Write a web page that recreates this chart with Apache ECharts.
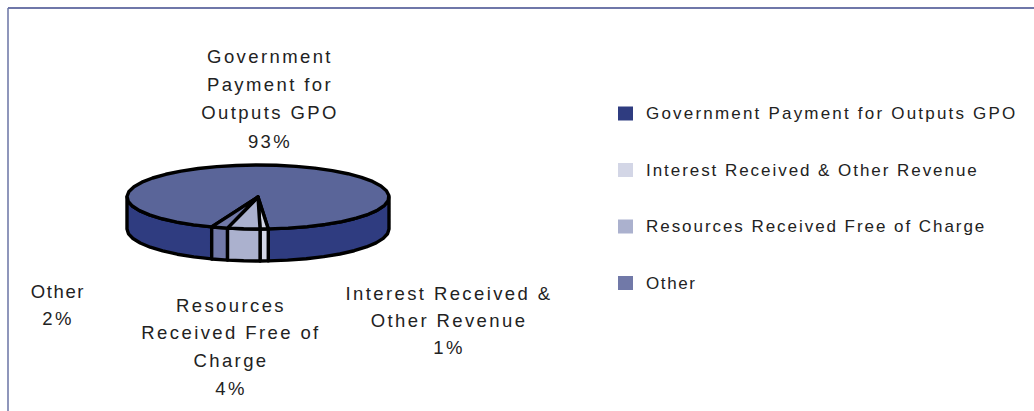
<!DOCTYPE html>
<html><head><meta charset="utf-8">
<style>html,body{margin:0;padding:0;background:#fff}#c{width:1034px;height:411px}</style>
<script src="https://cdn.jsdelivr.net/npm/echarts@6/dist/echarts.min.js"></script></head>
<body><div id="c"></div>
<script>
const categories = ['Government Payment for Outputs GPO','Interest Received & Other Revenue','Resources Received Free of Charge','Other'];
const values = [93, 1, 4, 2];
const labelLines = ['Government\nPayment for\nOutputs GPO','Interest Received &\nOther Revenue','Resources\nReceived Free of\nCharge','Other'];
const legendColors = ['#2f3c80','#d3d6e6','#abb1ce','#7179a8'];
const topColors = ['#5a6599','#d3d6e6','#abb1ce','#7179a8'];
const wallColors = ['#2f3c80','#d3d6e6','#abb1ce','#7179a8'];

const CX=258, CY=197, RX=131, RY=32, DEPTH=32, START=200.7, STEP=9;
const total = values.reduce((a,b)=>a+b,0);
const pt=(a,dy=0)=>{const r=a*Math.PI/180;return [CX+RX*Math.sin(r),CY-RY*Math.cos(r)+dy];};
function arc(a0,a1,dy){const n=Math.max(1,Math.ceil((a1-a0)/STEP));const p=[];for(let i=0;i<=n;i++)p.push(pt(a0+(a1-a0)*i/n,dy));return p;}
function spans(i){let s=START;for(let k=0;k<i;k++)s+=values[k]/total*360;return [s,s+values[i]/total*360];}
const line={stroke:'#000',lineWidth:3.4,lineJoin:'round'};
const series = categories.map((name,i)=>({
  name,type:'custom',coordinateSystem:'none',silent:true,z:i===0?2:3,
  itemStyle:{color:legendColors[i]},data:[values[i]],
  renderItem(){
    const [a0,a1]=spans(i);const children=[];
    for(const sh of [-360,0,360]){
      const lo=Math.max(a0+sh,90),hi=Math.min(a1+sh,270);
      if(hi>lo){const top=arc(lo,hi,0),bot=arc(lo,hi,DEPTH).reverse();
        children.push({type:'polygon',shape:{points:top.concat(bot)},style:{fill:wallColors[i],...line}});}
    }
    children.push({type:'polygon',shape:{points:[[CX,CY]].concat(arc(a0,a1,0))},style:{fill:topColors[i],...line}});
    return {type:'group',children};
  }
}));
const labelFont={fontFamily:'Liberation Sans',fontSize:18.5,fill:'#222',align:'center',verticalAlign:'top'};
const labelAt=[[270,42,28.3],[449,279.5,27],[231,291.5,27.6],[58,277.5,27.6]];
const graphic=[
 {type:'line',shape:{x1:8,y1:8,x2:1034,y2:8},style:{stroke:'#3f4a8c',lineWidth:1.5}},
 {type:'line',shape:{x1:8,y1:8,x2:8,y2:411},style:{stroke:'#6a73a5',lineWidth:1.5}},
 ...categories.map((c,i)=>({type:'text',x:labelAt[i][0],y:labelAt[i][1],z:10,
   style:{...labelFont,lineHeight:labelAt[i][2],text:labelLines[i]+'\n'+values[i]+'%'}}))
];
const chart=echarts.init(document.getElementById('c'),null,{renderer:'svg',width:1034,height:411});
chart.setOption({animation:false,backgroundColor:'#fff',
  legend:{orient:'vertical',left:613,top:100,itemWidth:15,itemHeight:14,itemGap:39.5,icon:'rect',selectedMode:false,
    data:categories,textStyle:{fontFamily:'Liberation Sans',fontSize:17,color:'#222',padding:[0,0,0,8]}},
  graphic,series});
const legendSpacing=[2.2,1.95,1.95,1.6];
document.querySelectorAll('#c svg text').forEach(t=>{
  const i=categories.indexOf(t.textContent);
  t.style.letterSpacing = (i>=0 ? legendSpacing[i] : 2.4)+'px';
});
</script></body></html>
